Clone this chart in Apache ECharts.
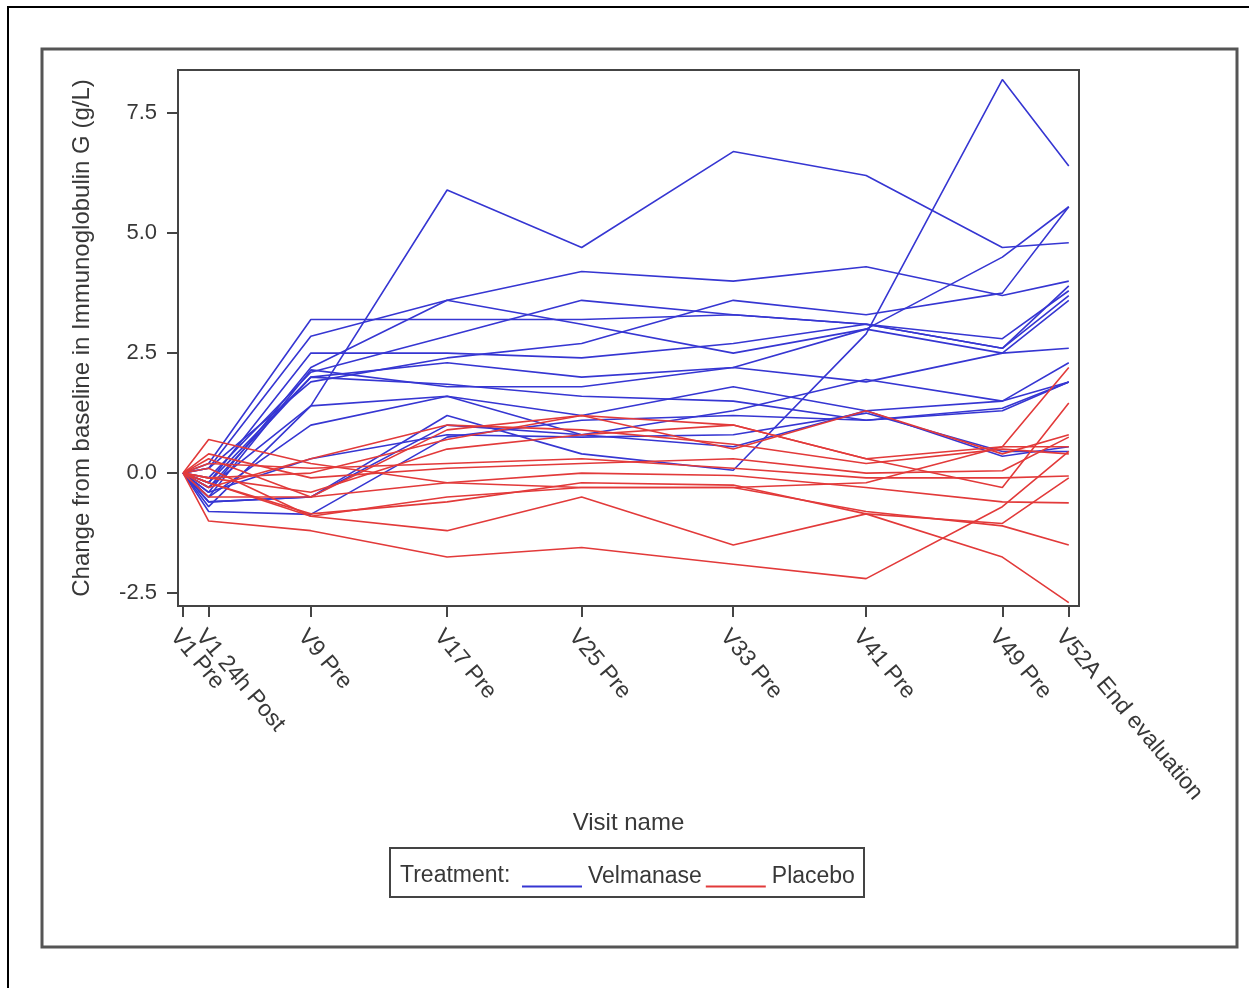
<!DOCTYPE html>
<html>
<head>
<meta charset="utf-8">
<title>IgG change from baseline</title>
<script src="https://cdn.jsdelivr.net/npm/echarts@6/dist/echarts.min.js"></script>
<style>
  html, body { margin: 0; padding: 0; background: #fff; }
  #chart { width: 1249px; height: 988px; }
</style>
</head>
<body>
<div id="chart"></div>
<script>
// visits on the x axis (label + approximate study week used for spacing)
const visitLabels = ['V1 Pre', 'V1 24h Post', 'V9 Pre', 'V17 Pre', 'V25 Pre', 'V33 Pre', 'V41 Pre', 'V49 Pre', 'V52A End evaluation'];
const visitWeek = [0, 1.5, 7.5, 15.5, 23.4, 32.3, 40.1, 48.1, 52];

const yTicks = [-2.5, 0, 2.5, 5, 7.5];

// change from baseline in IgG (g/L), one row per patient, one value per visit
const velmanase = [
    [0, -0.3, 1.4, 5.9, 4.7, 6.7, 6.2, 4.7, 4.8],
    [0, -0.6, -0.5, 1.2, 0.4, 0.06, 2.9, 8.2, 6.4],
    [0, 0.2, 3.2, 3.2, 3.2, 3.3, 3.1, 2.8, 3.8],
    [0, 0.1, 2.85, 3.6, 4.2, 4.0, 4.3, 3.7, 4.0],
    [0, -0.2, 2.5, 2.5, 2.4, 2.7, 3.1, 2.6, 3.7],
    [0, -0.4, 2.2, 3.6, 3.1, 2.5, 3.0, 2.5, 3.6],
    [0, -0.1, 2.1, 2.85, 3.6, 3.3, 3.1, 2.6, 3.9],
    [0, -0.3, 2.0, 2.3, 2.0, 2.2, 3.0, 4.5, 5.55],
    [0, 0.1, 1.9, 2.4, 2.7, 3.6, 3.3, 3.75, 5.55],
    [0, -0.5, 2.15, 1.8, 1.8, 2.2, 1.9, 2.5, 2.6],
    [0, -0.7, 1.4, 1.6, 1.2, 1.8, 1.3, 1.5, 2.3],
    [0, -0.5, 1.0, 1.6, 0.8, 1.3, 1.95, 1.5, 1.9],
    [0, -0.8, -0.86, 0.75, 1.1, 1.2, 1.1, 1.3, 1.9],
    [0, -0.6, -0.5, 1.0, 0.8, 0.55, 1.3, 0.35, 0.55],
    [0, -0.4, 0.3, 0.8, 0.75, 0.8, 1.25, 0.45, 0.45],
    [0, -0.2, 2.0, 1.85, 1.6, 1.5, 1.1, 1.35, 1.9]
];

const placebo = [
    [0, -1.0, -1.2, -1.75, -1.55, -1.9, -2.2, -0.7, 0.45],
    [0, -0.2, -0.9, -1.2, -0.5, -1.5, -0.85, -1.75, -2.7],
    [0, 0.7, 0.2, -0.2, -0.3, -0.3, -0.8, -1.1, -1.5],
    [0, 0.3, -0.5, 0.9, 1.2, 0.5, 1.3, 0.4, 0.8],
    [0, 0.1, -0.9, -0.5, -0.3, -0.3, -0.2, 0.55, 2.2],
    [0, -0.1, -0.4, 0.5, 0.8, 1.0, 0.3, -0.3, 1.46],
    [0, -0.3, 0.3, 1.0, 0.9, 0.6, 0.2, 0.5, 0.4],
    [0, 0.2, 0.1, 0.2, 0.3, 0.1, -0.1, -0.1, -0.06],
    [0, -0.5, -0.5, -0.2, 0.0, -0.05, -0.3, -0.6, -0.62],
    [0, -0.2, -0.85, -0.6, -0.2, -0.25, -0.85, -1.05, -0.1],
    [0, -0.1, 0.0, 0.7, 1.2, 1.0, 0.3, 0.55, 0.55],
    [0, 0.4, -0.1, 0.1, 0.2, 0.3, 0.0, 0.05, 0.75]
];

const BLUE = '#3636d2';
const RED = '#e23a3a';
const FONT = '"Liberation Sans", Arial, sans-serif';
const TXT = '#383838';

function makeSeries(rows, name, color) {
    return rows.map(function (row) {
        return {
            name: name,
            type: 'line',
            symbol: 'none',
            silent: true,
            xAxisIndex: 0,
            lineStyle: {color: color, width: 1.6},
            itemStyle: {color: color},
            data: row.map(function (v, i) { return [visitWeek[i], v]; })
        };
    });
}

function visitName(v) {
    const i = visitWeek.indexOf(v);
    return i >= 0 ? visitLabels[i] : '';
}

// the 24h visit sits right next to V1, echarts drops one of the two labels,
// so it gets its own overlaid axis
const mainTicks = visitWeek.filter(function (w, i) { return i !== 1; });
const closeTicks = [visitWeek[1]];

function visitAxis(ticks, extra) {
    const labelStyle = {
        customValues: ticks,
        showMinLabel: true,
        showMaxLabel: true,
        hideOverlap: false,
        rotate: -50,
        align: 'left',
        verticalAlign: 'top',
        margin: 19,
        fontSize: 23,
        color: TXT,
        fontFamily: FONT,
        formatter: visitName
    };
    return Object.assign({
        type: 'value',
        min: -0.3,
        max: 52.6,
        position: 'bottom',
        splitLine: {show: false},
        axisLine: {show: true, onZero: false, lineStyle: {color: '#444', width: 2}},
        axisTick: {show: true, length: 11, customValues: ticks, lineStyle: {color: '#444', width: 2}},
        axisLabel: labelStyle
    }, extra);
}

const chart = echarts.init(document.getElementById('chart'));
chart.setOption({
    animation: false,
    backgroundColor: '#fff',
    textStyle: {fontFamily: FONT},
    graphic: [
        {
            type: 'rect', z: -10,
            shape: {x: 8, y: 7, width: 1300, height: 1100},
            style: {fill: null, stroke: '#000', lineWidth: 2}
        },
        {
            type: 'rect', z: -10,
            shape: {x: 42, y: 49, width: 1195, height: 898},
            style: {fill: null, stroke: '#555', lineWidth: 3}
        },
        {
            type: 'rect',
            shape: {x: 390, y: 848, width: 474, height: 49},
            style: {fill: null, stroke: '#444', lineWidth: 2}
        },
        {
            type: 'text', left: 400, top: 864,
            style: {text: 'Treatment:', font: '23px ' + FONT, fill: TXT}
        }
    ],
    legend: {
        data: ['Velmanase', 'Placebo'],
        left: 522,
        top: 865,
        padding: 0,
        itemGap: 4,
        itemWidth: 62,
        itemHeight: 22,
        icon: 'path://M0,0 M0,20 L60,20 L60,22 L0,22 Z',
        selectedMode: false,
        textStyle: {fontSize: 23, color: TXT, fontFamily: FONT}
    },
    grid: {
        left: 178,
        top: 70,
        right: 170,
        bottom: 382,
        show: true,
        borderColor: '#444',
        borderWidth: 2,
        backgroundColor: '#fff'
    },
    xAxis: [
        visitAxis(mainTicks, {
            name: 'Visit name',
            nameLocation: 'middle',
            nameGap: 200,
            nameTextStyle: {fontSize: 24, color: TXT, fontFamily: FONT}
        }),
        visitAxis(closeTicks, {})
    ],
    yAxis: {
        type: 'value',
        min: -2.77,
        max: 8.4,
        name: 'Change from baseline in Immunoglobulin G (g/L)',
        nameLocation: 'middle',
        nameGap: 84,
        nameTextStyle: {fontSize: 24, color: TXT, fontFamily: FONT},
        splitLine: {show: false},
        axisLine: {show: true, onZero: false, lineStyle: {color: '#444', width: 2}},
        axisTick: {show: true, length: 11, customValues: yTicks, lineStyle: {color: '#444', width: 2}},
        axisLabel: {
            customValues: yTicks,
            margin: 21,
            fontSize: 22,
            color: TXT,
            fontFamily: FONT,
            formatter: function (v) { return v.toFixed(1); }
        }
    },
    series: makeSeries(velmanase, 'Velmanase', BLUE).concat(makeSeries(placebo, 'Placebo', RED))
});
</script>
</body>
</html>
